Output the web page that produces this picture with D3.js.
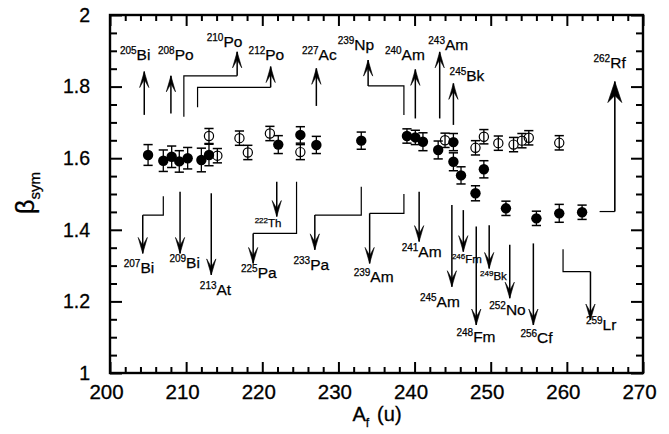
<!DOCTYPE html>
<html>
<head>
<meta charset="utf-8">
<script src="https://cdn.jsdelivr.net/npm/d3@7"></script>
<style>
  body { margin: 0; background: white; }
  svg { font-family: "Liberation Sans", Arial, Helvetica, sans-serif; }
</style>
</head>
<body>
<div id="chart"></div>
<script>
// filled symbols
var filledA   = [205, 207, 208.1, 209.1, 210.2, 212, 213, 222.1, 225, 227.1, 233, 239, 240.1, 241.1, 243.1, 245.1, 245.1, 246.1, 248, 249.1, 252, 256, 259, 262];
var filledB   = [1.609, 1.593, 1.604, 1.591, 1.600, 1.595, 1.609, 1.638, 1.665, 1.637, 1.649, 1.662, 1.658, 1.646, 1.623, 1.645, 1.590, 1.552, 1.502, 1.569, 1.460, 1.432, 1.446, 1.449];
var filledErr = [0.029, 0.03, 0.03, 0.03, 0.03, 0.033, 0.03, 0.025, 0.023, 0.024, 0.024, 0.02, 0.02, 0.025, 0.025, 0.024, 0.025, 0.024, 0.021, 0.024, 0.02, 0.02, 0.025, 0.02];

// open symbols
var openA   = [213, 214.1, 217, 218.1, 221, 225, 244, 248, 249.1, 251, 253, 254.1, 255, 259];
var openB   = [1.662, 1.607, 1.656, 1.616, 1.669, 1.617, 1.650, 1.629, 1.660, 1.642, 1.638, 1.649, 1.657, 1.643];
var openErr = [0.021, 0.02, 0.02, 0.02, 0.02, 0.021, 0.02, 0.02, 0.02, 0.02, 0.02, 0.02, 0.02, 0.02];

var xTicks = [200, 210, 220, 230, 240, 250, 260, 270];
var yTicks = [1, 1.2, 1.4, 1.6, 1.8, 2];

// nuclide labels: path in data units (last point = arrow tip), text start + baseline
var notes = [
  {iso: "205", el: "Bi", pts: [[204.5,1.721],[204.5,1.842]], tx: 201.3, ty: 1.874},
  {iso: "208", el: "Po", pts: [[208.0,1.725],[208.0,1.830]], tx: 206.3, ty: 1.874},
  {iso: "210", el: "Po", pts: [[209.7,1.716],[209.7,1.830],[216.7,1.830],[216.7,1.897]], tx: 212.7, ty: 1.912},
  {iso: "212", el: "Po", pts: [[211.5,1.742],[211.5,1.798],[221.1,1.798],[221.1,1.856]], tx: 218.2, ty: 1.874},
  {iso: "227", el: "Ac", pts: [[227.1,1.746],[227.1,1.851]], tx: 225.2, ty: 1.874},
  {iso: "239", el: "Np", pts: [[238.6,1.721],[238.6,1.802],[233.9,1.802],[233.9,1.874]], tx: 229.9, ty: 1.902},
  {iso: "240", el: "Am", pts: [[240.1,1.711],[240.1,1.848]], tx: 236.1, ty: 1.874},
  {iso: "243", el: "Am", pts: [[243.3,1.711],[243.3,1.897]], tx: 241.8, ty: 1.902},
  {iso: "245", el: "Bk", pts: [[245.1,1.693],[245.1,1.809]], tx: 244.6, ty: 1.817},
  {iso: "262", el: "Rf", pts: [[264.3,1.451],[266.3,1.451],[266.3,1.814]], tx: 263.5, ty: 1.851, big: true},
  {iso: "207", el: "Bi", pts: [[207.0,1.494],[207.0,1.441],[204.3,1.441],[204.3,1.334]], tx: 201.8, ty: 1.279},
  {iso: "209", el: "Bi", pts: [[209.2,1.506],[209.2,1.334]], tx: 207.8, ty: 1.292},
  {iso: "213", el: "At", pts: [[213.3,1.502],[213.3,1.274]], tx: 211.8, ty: 1.218},
  {iso: "222", el: "Th", pts: [[221.9,1.534],[221.9,1.437]], tx: 219.0, ty: 1.407, small: true},
  {iso: "225", el: "Pa", pts: [[224.5,1.534],[224.5,1.390],[218.8,1.390],[218.8,1.306]], tx: 217.2, ty: 1.265},
  {iso: "233", el: "Pa", pts: [[233.0,1.520],[233.0,1.441],[226.9,1.441],[226.9,1.344]], tx: 224.1, ty: 1.288},
  {iso: "239", el: "Am", pts: [[238.6,1.500],[238.6,1.446],[234.1,1.446],[234.1,1.306]], tx: 232.0, ty: 1.255},
  {iso: "241", el: "Am", pts: [[240.6,1.506],[240.6,1.367]], tx: 238.3, ty: 1.325},
  {iso: "245", el: "Am", pts: [[244.9,1.469],[244.9,1.241]], tx: 240.7, ty: 1.185},
  {iso: "246", el: "Fm", pts: [[246.4,1.455],[246.4,1.339]], tx: 244.9, ty: 1.306, small: true},
  {iso: "248", el: "Fm", pts: [[248.1,1.409],[248.1,1.134]], tx: 245.5, ty: 1.087},
  {iso: "249", el: "Bk", pts: [[249.8,1.413],[249.8,1.292]], tx: 248.6, ty: 1.260, small: true},
  {iso: "252", el: "No", pts: [[252.5,1.358],[252.5,1.209]], tx: 249.8, ty: 1.162},
  {iso: "256", el: "Cf", pts: [[255.6,1.362],[255.6,1.134]], tx: 253.9, ty: 1.083},
  {iso: "259", el: "Lr", pts: [[259.5,1.346],[259.5,1.283],[263.1,1.283],[263.1,1.148]], tx: 262.5, ty: 1.120}
];

var width = 669, height = 434;
var plotL = 110, plotR = 643, plotT = 15, plotB = 373;

var svg = d3.select("#chart").append("svg")
    .attr("width", width)
    .attr("height", height);

var x = d3.scaleLinear().domain([200, 270]).range([plotL, plotR]);
var y = d3.scaleLinear().domain([1, 2]).range([plotB, plotT]);

function minorOf(lo, hi, step, majors) {
    var out = [];
    for (var v = lo; v <= hi + 1e-9; v += step) {
        var r = Math.round(v * 1000) / 1000;
        if (majors.indexOf(r) < 0) out.push(r);
    }
    return out;
}
var xMinor = minorOf(200, 270, 2, xTicks);
var yMinor = minorOf(1, 2, 0.05, yTicks);

function styleAxis(g, fs) {
    g.select(".domain").remove();
    g.selectAll("line").attr("stroke", "#000").attr("stroke-width", 2);
    g.selectAll("text").attr("fill", "#000").attr("font-size", fs).attr("font-family", null)
        .attr("stroke", "#000").attr("stroke-width", 0.3);
}

// bottom
svg.append("g").attr("transform", "translate(0," + plotB + ")")
    .call(d3.axisBottom(x).tickValues(xTicks).tickSize(-11).tickPadding(11).tickFormat(d3.format("d")))
    .call(styleAxis, 20.5)
    .selectAll("text").attr("dx", -4);
svg.append("g").attr("transform", "translate(0," + plotB + ")")
    .call(d3.axisBottom(x).tickValues(xMinor).tickSize(-6).tickFormat(""))
    .call(styleAxis, 10);
// top
svg.append("g").attr("transform", "translate(0," + plotT + ")")
    .call(d3.axisTop(x).tickValues(xTicks).tickSize(-11).tickFormat(""))
    .call(styleAxis, 10);
svg.append("g").attr("transform", "translate(0," + plotT + ")")
    .call(d3.axisTop(x).tickValues(xMinor).tickSize(-6).tickFormat(""))
    .call(styleAxis, 10);
// left
svg.append("g").attr("transform", "translate(" + plotL + ",0)")
    .call(d3.axisLeft(y).tickValues(yTicks).tickSize(-12).tickPadding(20).tickFormat(function(d) { return +d.toFixed(1); }))
    .call(styleAxis, 19.5);
svg.append("g").attr("transform", "translate(" + plotL + ",0)")
    .call(d3.axisLeft(y).tickValues(yMinor).tickSize(-7).tickFormat(""))
    .call(styleAxis, 10);
// right
svg.append("g").attr("transform", "translate(" + plotR + ",0)")
    .call(d3.axisRight(y).tickValues(yTicks).tickSize(-12).tickFormat(""))
    .call(styleAxis, 10);
svg.append("g").attr("transform", "translate(" + plotR + ",0)")
    .call(d3.axisRight(y).tickValues(yMinor).tickSize(-7).tickFormat(""))
    .call(styleAxis, 10);

svg.append("rect")
    .attr("x", plotL).attr("y", plotT)
    .attr("width", plotR - plotL).attr("height", plotB - plotT)
    .attr("fill", "none").attr("stroke", "#000").attr("stroke-width", 2.4);

// axis titles
var xt = svg.append("text").attr("x", 377).attr("y", 421)
    .attr("text-anchor", "middle").attr("font-size", 20)
    .attr("stroke", "#000").attr("stroke-width", 0.3);
xt.append("tspan").text("A");
xt.append("tspan").attr("font-size", 12).attr("dy", 6).text("f");
xt.append("tspan").attr("dy", -6).attr("dx", 8).text("(u)");

var yt = svg.append("text").attr("transform", "translate(34,193) rotate(-90)")
    .attr("text-anchor", "middle").attr("font-size", 25)
    .attr("stroke", "#000").attr("stroke-width", 0.3);
yt.append("tspan").text("β");
yt.append("tspan").attr("font-size", 15).attr("dy", 6).text("sym");

// annotations
var line = d3.line().x(function(d) { return x(d[0]); }).y(function(d) { return y(d[1]); });
var ann = svg.append("g");

notes.forEach(function(n) {
    var p = n.pts;
    // connectors thin, the arrow shaft a bit heavier
    if (p.length > 2) {
        ann.append("path").attr("d", line(p.slice(0, p.length - 1)))
            .attr("fill", "none").attr("stroke", "#000").attr("stroke-width", 1.2);
    }
    var a = p[p.length - 2], b = p[p.length - 1];
    ann.append("path").attr("d", line([a, b]))
        .attr("fill", "none").attr("stroke", "#000").attr("stroke-width", n.big ? 1.6 : 1.5);

    var tx = x(b[0]), ty = y(b[1]);
    var dir = b[1] > a[1] ? 1 : -1;   // 1 = pointing up
    var hw = n.big ? 7 : 4.6, hl = n.big ? 21 : 16, hn = n.big ? 14 : 8;
    ann.append("path")
        .attr("d", "M" + tx + "," + ty + "L" + (tx - hw) + "," + (ty + dir * hl) +
             "L" + tx + "," + (ty + dir * hn) + "L" + (tx + hw) + "," + (ty + dir * hl) + "Z")
        .attr("fill", "#000").attr("stroke", "#000").attr("stroke-width", 0.6)
        .attr("stroke-linejoin", "miter");

    var t = ann.append("text").attr("x", x(n.tx)).attr("y", y(n.ty))
        .attr("font-size", n.small ? 11.5 : 15.5)
        .attr("stroke", "#000").attr("stroke-width", 0.25);
    t.append("tspan").attr("font-size", n.small ? 8 : 10).attr("dy", n.small ? -4 : -6).text(n.iso);
    t.append("tspan").attr("dy", n.small ? 4 : 6).text(n.el);
});

// error bars and symbols
function errBars(g, xs, ys, es) {
    var d = xs.map(function(v, i) { return {a: v, b: ys[i], e: es[i]}; });
    var eb = g.selectAll(null).data(d).enter().append("g");
    eb.append("line")
        .attr("x1", function(d) { return x(d.a); }).attr("x2", function(d) { return x(d.a); })
        .attr("y1", function(d) { return y(d.b - d.e); }).attr("y2", function(d) { return y(d.b + d.e); })
        .attr("stroke", "#000").attr("stroke-width", 1.3);
    [-1, 1].forEach(function(s) {
        eb.append("line")
            .attr("x1", function(d) { return x(d.a) - 4.6; }).attr("x2", function(d) { return x(d.a) + 4.6; })
            .attr("y1", function(d) { return y(d.b + s * d.e); }).attr("y2", function(d) { return y(d.b + s * d.e); })
            .attr("stroke", "#000").attr("stroke-width", 1.5);
    });
    return d;
}

var og = svg.append("g");
var od = errBars(og, openA, openB, openErr);
og.selectAll("circle").data(od).enter().append("circle")
    .attr("cx", function(d) { return x(d.a); })
    .attr("cy", function(d) { return y(d.b); })
    .attr("r", 4.6)
    .attr("fill", "none").attr("stroke", "#000").attr("stroke-width", 1.2);

var fg = svg.append("g");
var fd = errBars(fg, filledA, filledB, filledErr);
fg.selectAll("circle").data(fd).enter().append("circle")
    .attr("cx", function(d) { return x(d.a); })
    .attr("cy", function(d) { return y(d.b); })
    .attr("r", 5.2)
    .attr("fill", "#000");
</script>
</body>
</html>
